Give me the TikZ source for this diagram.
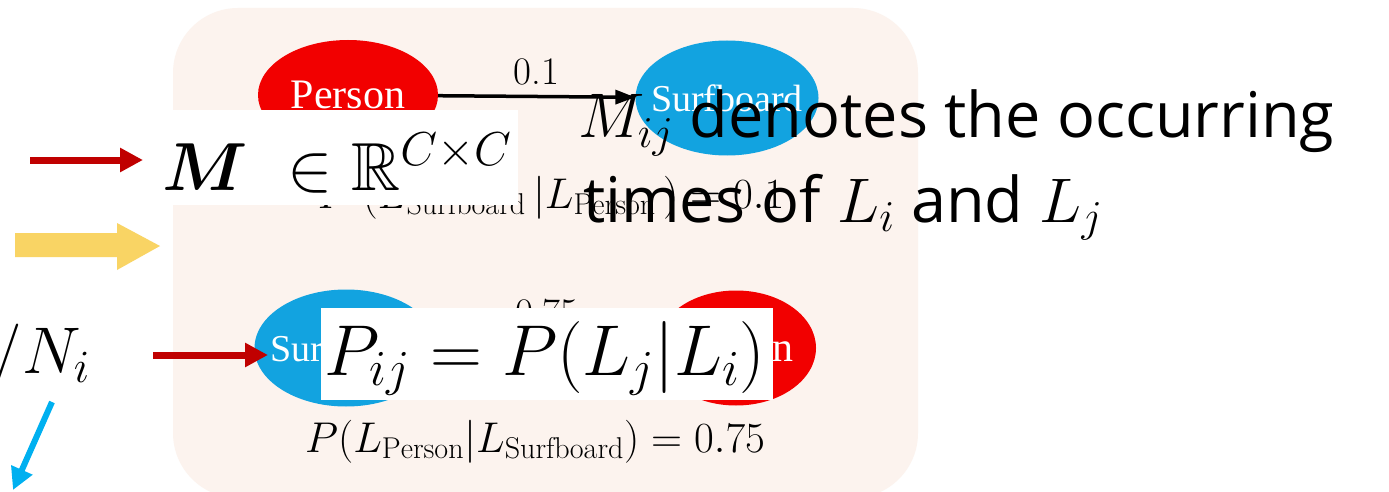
\RequirePackage{fix-cm}
\documentclass[tikz,border=0pt]{standalone}
\usepackage{amsmath,amssymb,bm}
\usepackage{fontspec}
\newfontfamily\osans{Open Sans}
\newfontfamily\tnr{Liberation Serif}
\usetikzlibrary{shapes.geometric,arrows.meta}
\definecolor{panel}{HTML}{FCF3EE}
\definecolor{pred}{HTML}{F20000}
\definecolor{sblue}{HTML}{12A3E0}
\definecolor{darkred}{HTML}{C00000}
\definecolor{yarrow}{HTML}{F9D464}
\definecolor{carrow}{HTML}{00B0F0}
\tikzset{
  ell/.style={ellipse, inner sep=0pt},
  etext/.style={inner sep=0pt, text=white, font=\tnr\fontsize{38}{44}\selectfont},
  ptext/.style={inner sep=0pt, text=white, font=\tnr\fontsize{42}{48}\selectfont},
  wbox/.style={fill=white, inner sep=0pt, draw=none},
  redarrow/.style={draw=darkred, line width=7pt, -{Triangle[length=23pt,width=23pt]}},
  bluearrow/.style={draw=carrow, line width=6pt, -{Triangle[length=22pt,width=22pt]}},
  edge/.style={draw=black, line width=3.5pt, -{Triangle[length=20pt,width=14pt]}},
  elabel/.style={font=\fontsize{39}{44}\selectfont, inner sep=10pt},
  prob/.style={font=\fontsize{43}{50}\selectfont, anchor=base, inner sep=0pt},
  big/.style={font=\fontsize{68}{80}\selectfont, anchor=base west, inner sep=0pt},
  note/.style={font=\osans\fontsize{63}{75}\selectfont, anchor=base west, inner sep=0pt}
}
\begin{document}
\begin{tikzpicture}[x=1pt,y=-1pt]
\useasboundingbox (0,0) rectangle (1389,492);
\fill[white] (0,0) rectangle (1389,492);
% panel
\fill[panel, rounded corners=65pt] (173,8) rectangle (918,498);
% graph nodes
\node[ell, fill=pred, minimum width=180pt, minimum height=110pt] (p1) at (348,95) {};
\node[ptext] (p1t) at (p1.center) {Person};
\node[ell, fill=sblue, minimum width=183pt, minimum height=115pt] (s1) at (727,98) {};
\node[etext] (s1t) at (s1.center) {Surfboard};
\node[ell, fill=sblue, minimum width=183pt, minimum height=117pt] (s2) at (346,348) {};
\node[etext] (s2t) at (s2.center) {Surfboard};
\node[ell, fill=pred, minimum width=160pt, minimum height=115pt] (p2) at (736,348) {};
\node[ptext] (p2t) at (p2.center) {Person};
\draw[edge] (p1) -- (s1) node[midway, above, elabel] (l1) {0.1};
\draw[edge] (s2) -- (p2) node[midway, above, elabel, inner sep=20pt] (l2) {0.75};
\node[prob] (pr1) at (551,208) {$P\;(L_{\mathrm{Surfboard}}\,|L_{\mathrm{Person}}\,) = 0.1$};
\node[prob] (pr2) at (535,452) {$P(L_{\mathrm{Person}}|L_{\mathrm{Surfboard}}) = 0.75$};
% left-side arrows
\fill[yarrow] (15,233) -- (117,233) -- (117,223) -- (160,246) -- (117,270) -- (117,257) -- (15,257) -- cycle;
\node[font=\fontsize{66}{78}\selectfont, anchor=base east, inner sep=0pt] (ni) at (90,373) {$/N_i$};
\coordinate (b1) at (52,402);
\coordinate (b2) at (13,490);
\draw[bluearrow] (b1) -- (b2);
% white overlay boxes
\node[wbox, anchor=north west, minimum width=358pt, minimum height=95pt] (mbox) at (160,110) {};
\node[big] (mtext) at (162,190) {$\bm{M}\ \in \mathbb{R}^{C\times C}$};
\node[wbox, anchor=north west, minimum width=452pt, minimum height=92pt] (pbox) at (321,308) {};
\node[big, font=\fontsize{72}{84}\selectfont] (ptext) at (324,375) {$P_{ij} = P(L_j|L_i)$};
\coordinate (r1) at (30,160);
\coordinate (r1e) at (143,160);
\draw[redarrow] (r1) -- (r1e);
\coordinate (r2) at (153,355);
\coordinate (r2e) at (268,355);
\draw[redarrow] (r2) -- (r2e);
% explanatory text
\node[note] (n1) at (578,138) {$M_{ij}$ denotes the occurring};
\node[note] (n2) at (583,222) {times of $L_i$ and $L_j$};
\end{tikzpicture}
\end{document}
